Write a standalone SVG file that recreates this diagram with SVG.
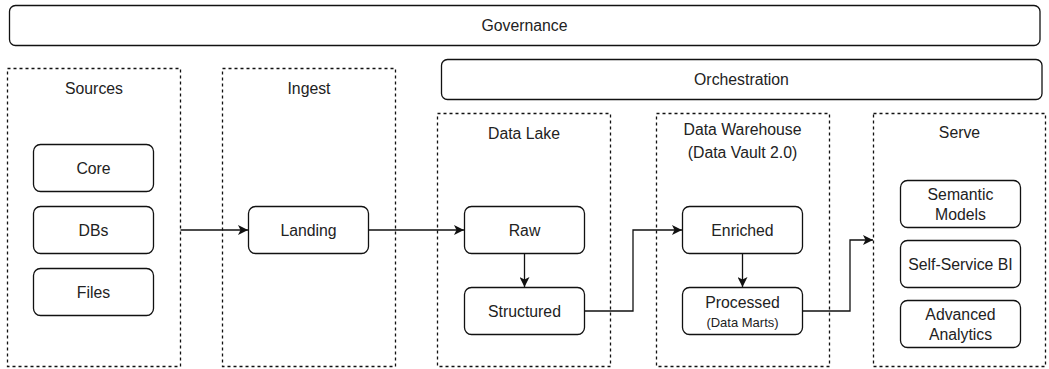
<svg xmlns="http://www.w3.org/2000/svg" width="1049" height="369" viewBox="0 0 1049 369">
  <style>
    text { font-family: "Liberation Sans", Arial, sans-serif; font-size: 15.8px; fill: #222; text-anchor: middle; }
    .small { font-size: 13px; }
    .box { fill: #fff; stroke: #111; stroke-width: 1.3; }
    .zone { fill: none; stroke: #111; stroke-width: 1.3; stroke-dasharray: 3 3; }
    .edge { fill: none; stroke: #111; stroke-width: 1.3; }
  </style>
  <defs>
    <marker id="arrow" viewBox="0 0 10 10" refX="10" refY="5" markerWidth="10" markerHeight="10" markerUnits="userSpaceOnUse" orient="auto">
      <path d="M0,0 L10,5 L0,10 L2.5,5 Z" fill="#111"/>
    </marker>
  </defs>
  <rect width="1049" height="369" fill="#fff"/>

  <!-- Cross-cutting bands -->
  <g id="governance">
    <rect class="box" x="9.5" y="5.5" width="1030.5" height="40" rx="6"/>
    <text x="524.5" y="31">Governance</text>
  </g>
  <g id="orchestration">
    <rect class="box" x="441.5" y="59.5" width="600.5" height="40" rx="6"/>
    <text x="741.5" y="85">Orchestration</text>
  </g>

  <!-- Zones -->
  <g id="zone-sources">
    <rect class="zone" x="7.5" y="68.5" width="173" height="298"/>
    <text x="94" y="94">Sources</text>
  </g>
  <g id="zone-ingest">
    <rect class="zone" x="222.5" y="68.5" width="173" height="298"/>
    <text x="309" y="94">Ingest</text>
  </g>
  <g id="zone-datalake">
    <rect class="zone" x="437.5" y="113.5" width="173" height="253"/>
    <text x="524" y="139">Data Lake</text>
  </g>
  <g id="zone-datawarehouse">
    <rect class="zone" x="656.5" y="113.5" width="173" height="253"/>
    <text x="742.5" y="135">Data Warehouse</text>
    <text x="742.5" y="158">(Data Vault 2.0)</text>
  </g>
  <g id="zone-serve">
    <rect class="zone" x="873.5" y="113.5" width="172" height="253"/>
    <text x="959.5" y="138">Serve</text>
  </g>

  <!-- Nodes -->
  <g id="core">
    <rect class="box" x="33.5" y="144.5" width="120" height="47" rx="7"/>
    <text x="93.5" y="174">Core</text>
  </g>
  <g id="dbs">
    <rect class="box" x="33.5" y="206.5" width="120" height="47" rx="7"/>
    <text x="93.5" y="236">DBs</text>
  </g>
  <g id="files">
    <rect class="box" x="33.5" y="268.5" width="120" height="47" rx="7"/>
    <text x="93.5" y="298">Files</text>
  </g>
  <g id="landing">
    <rect class="box" x="248.5" y="206.5" width="120" height="47" rx="7"/>
    <text x="308.5" y="236">Landing</text>
  </g>
  <g id="raw">
    <rect class="box" x="464.5" y="206.5" width="120" height="47" rx="7"/>
    <text x="524.5" y="236">Raw</text>
  </g>
  <g id="structured">
    <rect class="box" x="464.5" y="287.5" width="120" height="47" rx="7"/>
    <text x="524.5" y="317">Structured</text>
  </g>
  <g id="enriched">
    <rect class="box" x="682.5" y="206.5" width="120" height="47" rx="7"/>
    <text x="742.5" y="236">Enriched</text>
  </g>
  <g id="processed">
    <rect class="box" x="682.5" y="287.5" width="120" height="47" rx="7"/>
    <text x="742.5" y="307.5">Processed</text>
    <text class="small" x="742.5" y="327">(Data Marts)</text>
  </g>
  <g id="semantic-models">
    <rect class="box" x="900.5" y="180.5" width="120" height="47" rx="7"/>
    <text x="960.5" y="200">Semantic</text>
    <text x="960.5" y="220">Models</text>
  </g>
  <g id="self-service-bi">
    <rect class="box" x="900.5" y="240.5" width="120" height="47" rx="7"/>
    <text x="960.5" y="270">Self-Service BI</text>
  </g>
  <g id="advanced-analytics">
    <rect class="box" x="900.5" y="300.5" width="120" height="47" rx="7"/>
    <text x="960.5" y="320">Advanced</text>
    <text x="960.5" y="340">Analytics</text>
  </g>

  <!-- Connectors -->
  <g id="connectors">
    <path class="edge" d="M180.5,230 H248" marker-end="url(#arrow)"/>
    <path class="edge" d="M368.5,230 H464" marker-end="url(#arrow)"/>
    <path class="edge" d="M524.5,253.5 V287" marker-end="url(#arrow)"/>
    <path class="edge" d="M584.5,311 H633 V230 H682" marker-end="url(#arrow)"/>
    <path class="edge" d="M742.5,253.5 V287" marker-end="url(#arrow)"/>
    <path class="edge" d="M802.5,311 H850 V240 H873" marker-end="url(#arrow)"/>
  </g>
</svg>
